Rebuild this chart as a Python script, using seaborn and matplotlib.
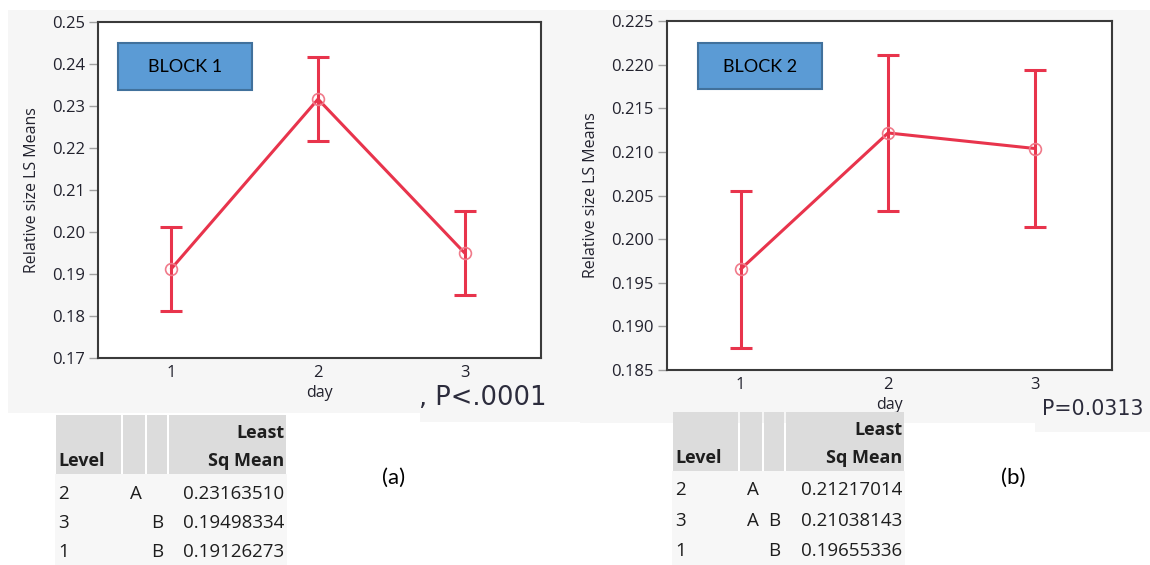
import matplotlib
matplotlib.use("Agg")
import matplotlib.pyplot as plt
from matplotlib.patches import Rectangle
import seaborn as sns
import pandas as pd

sns.set_theme(style="white")
plt.rcParams['font.family'] = ['Open Sans', 'DejaVu Sans']

# Least-squares means per day with their error half-widths
days = [1, 2, 3]
block1_mean = [0.19126273, 0.23163510, 0.19498334]
block1_err = [0.0100, 0.0100, 0.0101]
block2_mean = [0.19655336, 0.21217014, 0.21038143]
block2_err = [0.0090, 0.0089, 0.0090]

block1_ticks = [0.17, 0.18, 0.19, 0.20, 0.21, 0.22, 0.23, 0.24, 0.25]
block2_ticks = [0.185, 0.190, 0.195, 0.200, 0.205, 0.210, 0.215, 0.220, 0.225]

# Connecting-letters report rows (level, letter columns)
block1_levels = [2, 3, 1]
block1_letter_a = ["A", "", ""]
block1_letter_b = ["", "B", "B"]
block2_levels = [2, 3, 1]
block2_letter_a = ["A", "A", ""]
block2_letter_b = ["", "B", "B"]

block1_p = ", P<.0001"
block2_p = "P=0.0313"

RED = "#e8344c"
PINK = "#f07a8a"
PANEL_BG = "#f6f6f6"
TXT = "#22222e"

W, H = 1150, 565
fig = plt.figure(figsize=(W / 100, H / 100), dpi=100)
fig.patch.set_facecolor("white")


def frac_rect(x0, y0, x1, y1):
    return [x0 / W, 1 - y1 / H, (x1 - x0) / W, (y1 - y0) / H]


def box(x0, y0, x1, y1, zorder=0, **kw):
    fig.add_artist(Rectangle((x0 / W, 1 - y1 / H), (x1 - x0) / W, (y1 - y0) / H,
                             transform=fig.transFigure, zorder=zorder, **kw))


def label(x, y, s, **kw):
    fig.text(x / W, 1 - y / H, s, **kw)


# grey report backgrounds
box(8, 10, 580, 413, facecolor=PANEL_BG, lw=0)
box(420, 380, 580, 422, facecolor=PANEL_BG, lw=0)
box(580, 10, 1150, 423, facecolor=PANEL_BG, lw=0)
box(1035, 390, 1150, 432, facecolor=PANEL_BG, lw=0)


def panel(frame, mean, err, ticks, fmt, tag, tag_box, ylab_x, day_y):
    x0, y0, x1, y1 = frame
    ax = fig.add_axes(frac_rect(*frame))
    ax.set_facecolor("white")
    df = pd.DataFrame({"day": days, "mean": mean})
    ax.errorbar(days, mean, yerr=err, fmt="none", ecolor=RED, elinewidth=2.2,
                capsize=8, capthick=2.2, zorder=2)
    sns.lineplot(data=df, x="day", y="mean", ax=ax, color=RED, lw=2.2,
                 marker="o", markersize=8.5, markerfacecolor="none",
                 markeredgecolor=PINK, markeredgewidth=1.2, zorder=3)
    ax.set_xlim(0.5, 3.52)
    ax.set_ylim(ticks[0], ticks[-1])
    ax.set_yticks(ticks)
    ax.set_yticklabels([fmt.format(t) for t in ticks])
    ax.set_xticks(days)
    ax.set_xticklabels([str(d) for d in days])
    ax.tick_params(axis="y", length=6.5, width=1, color="#a0a0a0", pad=3,
                   labelsize=12, labelcolor=TXT, left=True)
    ax.tick_params(axis="x", length=0, pad=5, labelsize=12, labelcolor=TXT)
    for sp in ax.spines.values():
        sp.set_visible(True)
        sp.set_color("#3a3a3a")
        sp.set_linewidth(1.5)
    ax.set_xlabel("day", fontsize=11.5, color=TXT)
    ax.xaxis.label.set_va("center")
    ax.xaxis.set_label_coords(0.5, (y1 - day_y) / (y1 - y0))
    ax.set_ylabel("Relative size LS Means", fontsize=11.5, color=TXT)
    ax.yaxis.label.set_va("center")
    ax.yaxis.set_label_coords((ylab_x - x0) / (x1 - x0), 0.5)
    bx0, by0, bx1, by1 = tag_box
    box(bx0, by0, bx1, by1, zorder=5, facecolor="#5b9bd5", edgecolor="#41719c", lw=1.5)
    label((bx0 + bx1) / 2, (by0 + by1) / 2 + 1, tag, fontsize=13, family=["Lato", "DejaVu Sans"],
          color="black", ha="center", va="center", zorder=6)
    return ax


panel((98, 22, 541, 358), block1_mean, block1_err, block1_ticks, "{:.2f}",
      "BLOCK 1", (118, 43, 252, 90), 32, 393)
panel((667, 21, 1112, 370), block2_mean, block2_err, block2_ticks, "{:.3f}",
      "BLOCK 2", (698, 43, 822, 89), 591, 405)

label(419, 398, block1_p, fontsize=18.5, family="DejaVu Sans", color="#2c2c3c",
      ha="left", va="center")
label(1042, 409, block2_p, fontsize=14.8, family="DejaVu Sans", color="#2c2c3c",
      ha="left", va="center")


def report(cols, head_y, body_bottom, row_ys, levels, let_a, let_b, means):
    c0, c1, c2, c3, c4 = cols
    hy0, hy1 = head_y
    box(c0, hy1, c4, body_bottom, zorder=1, facecolor="#f7f7f7", lw=0)
    for a, b in [(c0, c1), (c1, c2), (c2, c3), (c3, c4)]:
        box(a + 1, hy0, b - 1, hy1, zorder=1, facecolor="#dcdcdc", lw=0)
    hkw = dict(fontsize=13, fontweight="bold", color="#1e1e1e", zorder=4)
    label(c0 + 3, hy1 - 13, "Level", ha="left", va="center", **hkw)
    label(c4 - 3, hy0 + 18, "Least", ha="right", va="center", **hkw)
    label(c4 - 3, hy1 - 13, "Sq Mean", ha="right", va="center", **hkw)
    order = {d: m for d, m in zip(days, means)}
    bkw = dict(fontsize=13.5, color="#1e1e1e", va="center", zorder=4)
    for y, lev, la, lb in zip(row_ys, levels, let_a, let_b):
        label(c0 + 3, y, str(lev), ha="left", **bkw)
        label((c1 + c2) / 2 + 2, y, la, ha="center", **bkw)
        label((c2 + c3) / 2, y, lb, ha="center", **bkw)
        label(c4 - 3, y, f"{order[lev]:.8f}", ha="right", **bkw)


report((55, 122, 146, 168, 287), (415, 474), 565, (494, 523, 552),
       block1_levels, block1_letter_a, block1_letter_b, block1_mean)
report((672, 739, 763, 785, 905), (412, 471), 565, (490, 521, 551),
       block2_levels, block2_letter_a, block2_letter_b, block2_mean)

label(394, 478, "(a)", fontsize=16, family=["Lato", "DejaVu Sans"], color="black",
      ha="center", va="center")
label(1013, 478, "(b)", fontsize=16, family=["Lato", "DejaVu Sans"], color="black",
      ha="center", va="center")

fig.savefig("out.png", dpi=100, facecolor="white")
